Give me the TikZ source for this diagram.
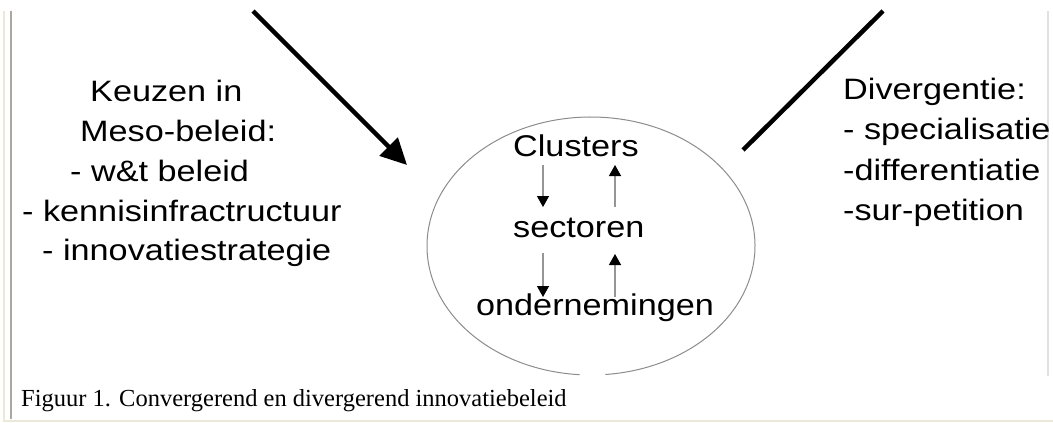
\documentclass[tikz,border=0pt]{standalone}
\usepackage{fontspec}
\setmainfont{Liberation Serif}
\newfontfamily\helvA[FakeStretch=1.16]{Liberation Sans}
\newfontfamily\helvB[FakeStretch=1.14]{Liberation Sans}
\usetikzlibrary{arrows.meta}
\definecolor{framegray}{RGB}{170,168,160}
\definecolor{framebeige}{RGB}{236,233,216}
\definecolor{rightgray}{RGB}{225,225,225}
\definecolor{ringgray}{RGB}{140,140,140}
\definecolor{shaftgray}{RGB}{150,150,150}
\tikzset{
  sidetext/.style={anchor=base west,inner sep=0pt,font=\helvA\fontsize{29.5}{29.5}\selectfont},
  ringtext/.style={anchor=base west,inner sep=0pt,font=\helvB\fontsize{30}{30}\selectfont},
  captext/.style={anchor=base west,inner sep=0pt,font=\fontsize{24.5}{24.5}\selectfont},
  bigarrow/.style={line width=4.5pt,-{Triangle[length=26pt,width=25pt]}},
  bigline/.style={line width=4.5pt},
  smallarrow/.style={draw=shaftgray,line width=1.3pt,-{Triangle[length=11pt,width=12pt,color=black]}},
}
\begin{document}
\begin{tikzpicture}[x=1pt,y=-1pt]
\useasboundingbox (0,0) rectangle (1053,423);
% frame
\draw[framebeige,line width=1.5pt] (4,11) -- (4,421) -- (1053,421);
\draw[framegray,line width=2pt] (11,11) -- (11,419);
\draw[rightgray,line width=1.5pt] (1048,11) -- (1048,376);
% left text
\node[sidetext] (k1) at (90,101) {Keuzen in};
\node[sidetext] (k2) at (80,141) {Meso-beleid:};
\node[sidetext] (k3) at (70,181) {- w\&t beleid};
\node[sidetext] (k4) at (22,221) {- kennisinfractructuur};
\node[sidetext] (k5) at (42,260) {- innovatiestrategie};
% right text
\node[sidetext] (d1) at (843,99) {Divergentie:};
\node[sidetext] (d2) at (843,139) {- specialisatie};
\node[sidetext] (d3) at (843,180) {-differentiatie};
\node[sidetext] (d4) at (843,220) {-sur-petition};
% ellipse (small gap at the bottom, as in the reference)
\coordinate (ec) at (591,246);
\draw[ringgray,line width=1pt] (ec) ++({164*cos(94)},{129*sin(94)}) arc[start angle=94,end angle=445,x radius=164,y radius=129];
% ring texts
\node[ringtext] (cl) at (513,156) {Clusters};
\node[ringtext] (se) at (513,237) {sectoren};
\node[ringtext] (on) at (476,315) {ondernemingen};
% small arrows
\coordinate (a1s) at (543,165); \coordinate (a1e) at (543,207);
\coordinate (a2s) at (615,207); \coordinate (a2e) at (615,165);
\coordinate (a3s) at (543,253); \coordinate (a3e) at (543,297);
\coordinate (a4s) at (615,297); \coordinate (a4e) at (615,254);
\draw[smallarrow] (a1s) -- (a1e);
\draw[smallarrow] (a2s) -- (a2e);
\draw[smallarrow] (a3s) -- (a3e);
\draw[smallarrow] (a4s) -- (a4e);
% big arrows
\coordinate (ls) at (253,11); \coordinate (le) at (407,165);
\coordinate (rs) at (883,11); \coordinate (re) at (743,150);
\draw[bigarrow] (ls) -- (le);
\draw[bigline] (rs) -- (re);
% caption
\node[captext] (cap) at (21,406) {Figuur 1. Convergerend en divergerend innovatiebeleid};
\end{tikzpicture}
\end{document}
